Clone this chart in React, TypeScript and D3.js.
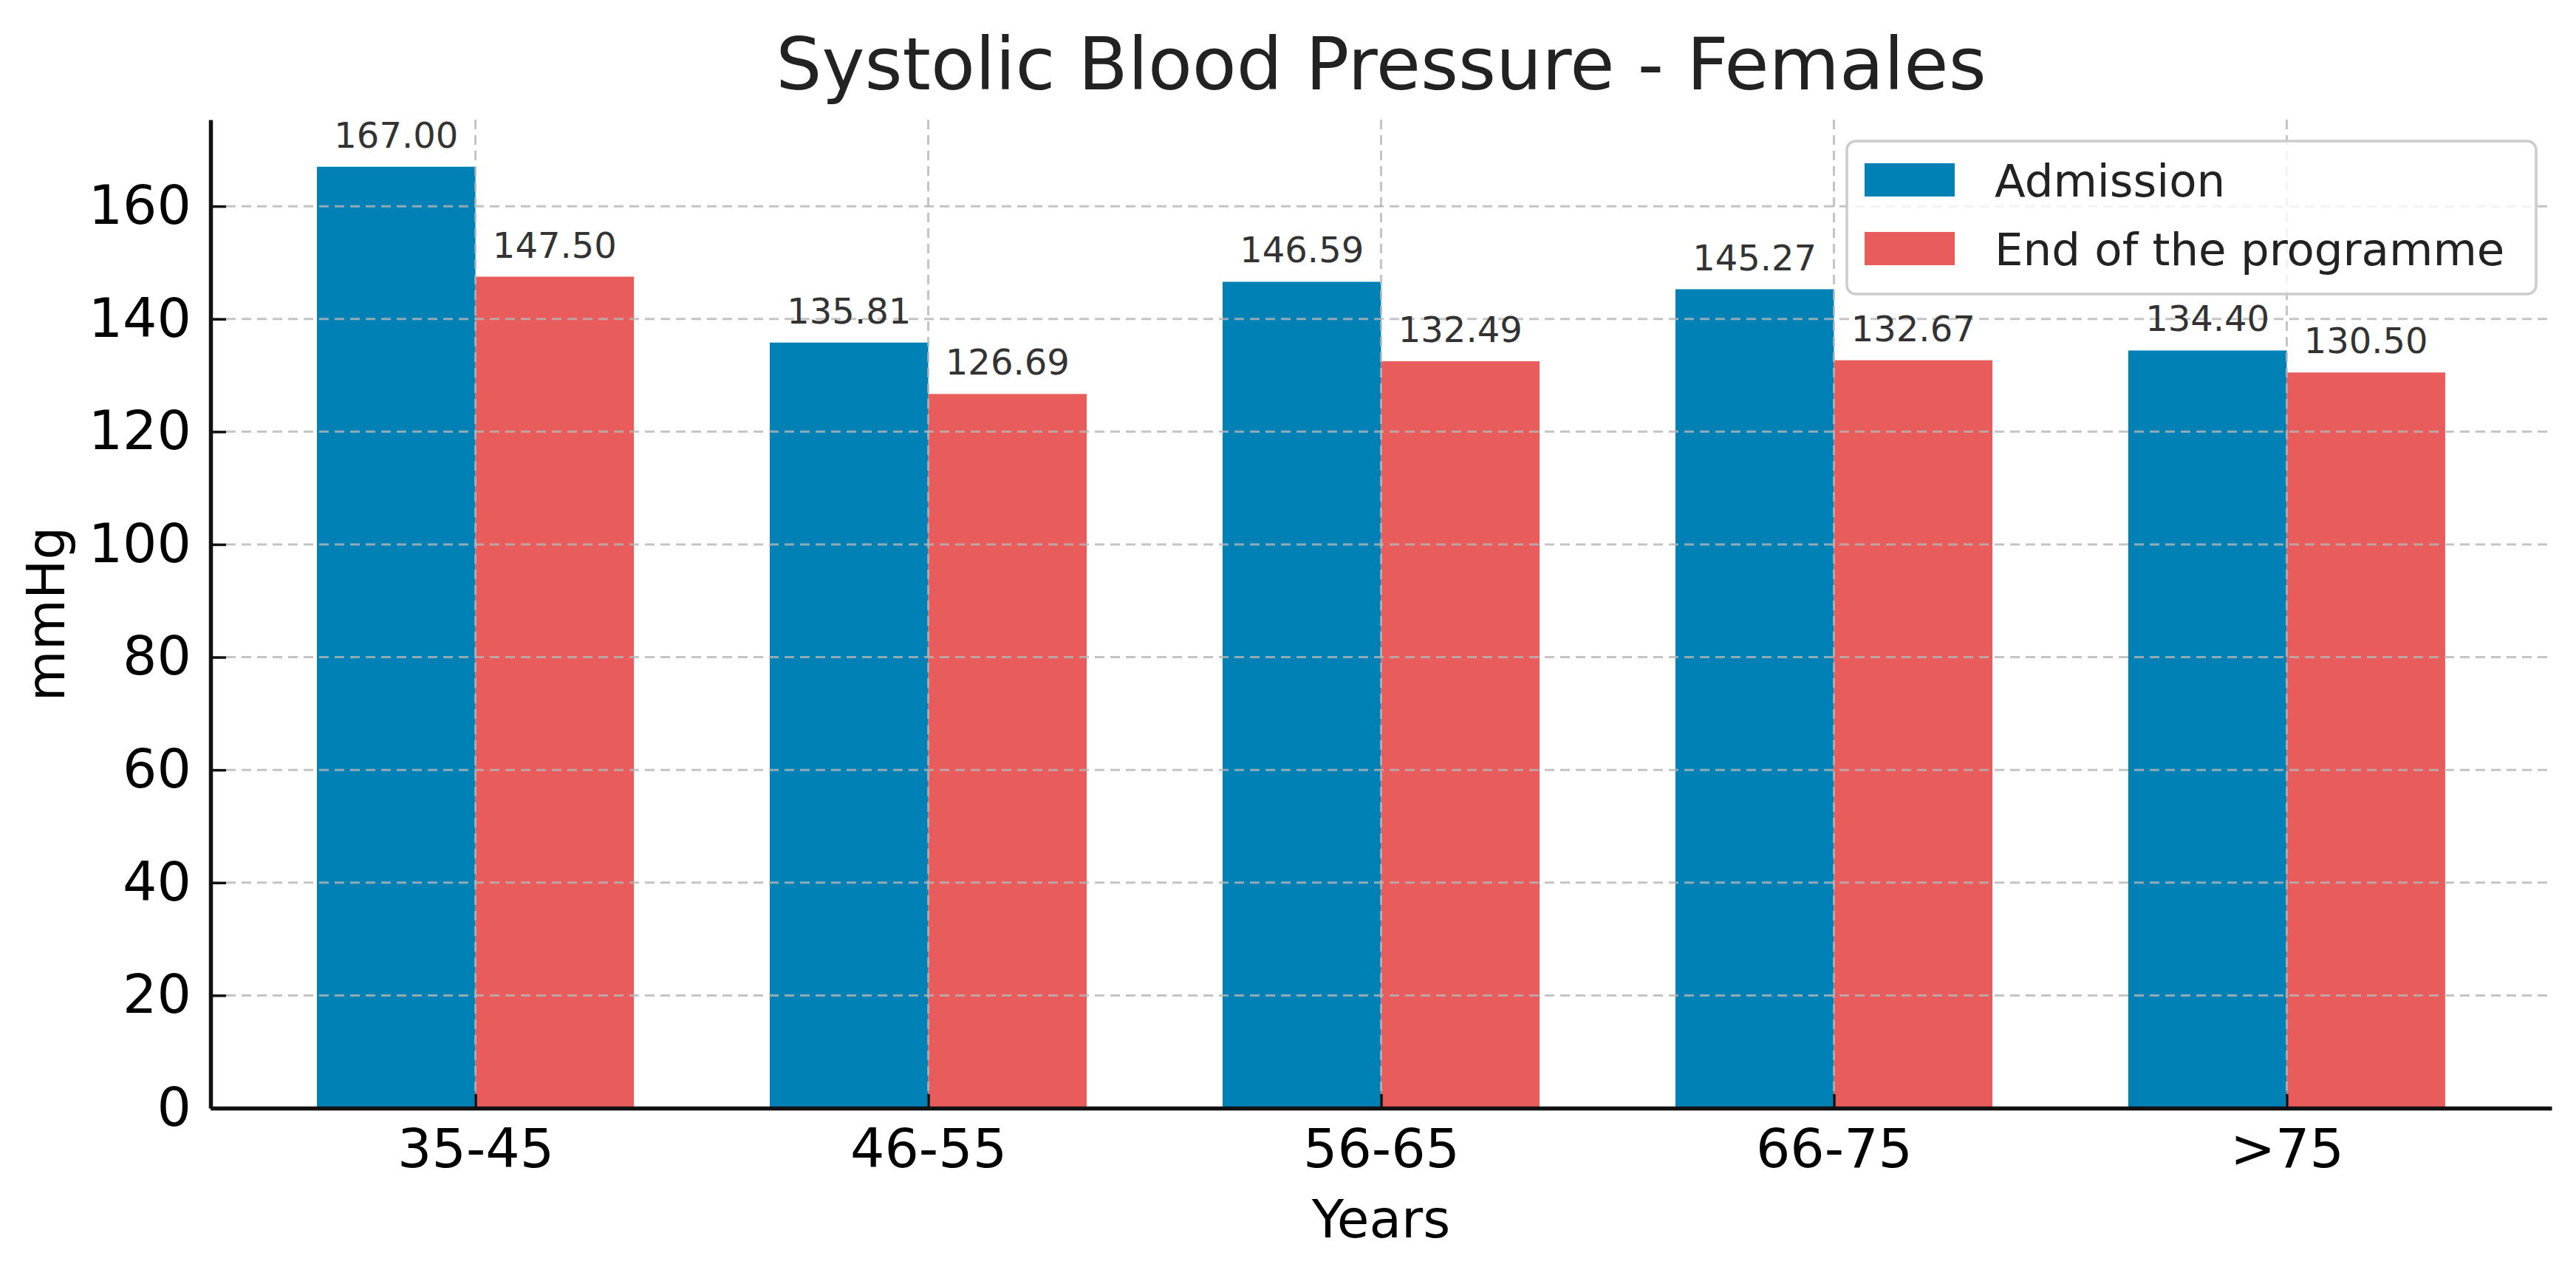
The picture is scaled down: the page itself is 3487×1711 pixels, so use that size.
import React, { useRef, useEffect } from "react";
import * as d3 from "d3";

// Data
const categories: string[] = ["35-45", "46-55", "56-65", "66-75", ">75"];
const admission: number[] = [167.0, 135.81, 146.59, 145.27, 134.4];
const endOfProgramme: number[] = [147.5, 126.69, 132.49, 132.67, 130.5];
const seriesNames: string[] = ["Admission", "End of the programme"];
const yTicks: number[] = [0, 20, 40, 60, 80, 100, 120, 140, 160];

const BLUE = "#0081b6";
const RED = "#e85c5c";
const FONT = "'DejaVu Sans', sans-serif";

const App: React.FC = () => {
  const svgRef = useRef<SVGSVGElement | null>(null);

  useEffect(() => {
    const width = 3487;
    const height = 1711;
    const left = 285;
    const right = 3454;
    const top = 162;
    const bottom = 1500;
    const barW = 0.35;

    const svg = d3.select(svgRef.current);
    svg.selectAll("*").remove();
    svg.attr("width", width).attr("height", height);

    svg.append("rect").attr("width", width).attr("height", height).attr("fill", "white");

    // Scales
    const x = d3.scaleLinear().domain([-0.585, 4.585]).range([left, right]);
    const y = d3.scaleLinear().domain([0, 175.35]).range([bottom, top]);
    const unit = x(1) - x(0);

    // Bars
    const series = [
      { name: seriesNames[0], values: admission, color: BLUE, offset: -barW },
      { name: seriesNames[1], values: endOfProgramme, color: RED, offset: 0 },
    ];

    series.forEach((s) => {
      svg
        .append("g")
        .selectAll("rect")
        .data(s.values)
        .join("rect")
        .attr("x", (_, i) => x(i + s.offset))
        .attr("y", (d) => y(d))
        .attr("width", barW * unit)
        .attr("height", (d) => y(0) - y(d))
        .attr("fill", s.color);
    });

    // Grid (drawn above bars)
    const grid = svg.append("g").attr("stroke", "#b5b5b5").attr("stroke-opacity", 0.8)
      .attr("stroke-width", 3).attr("stroke-dasharray", "13,8");
    grid
      .selectAll("line.h")
      .data(yTicks.filter((t) => t > 0))
      .join("line")
      .attr("x1", left)
      .attr("x2", right)
      .attr("y1", (d) => y(d))
      .attr("y2", (d) => y(d));
    grid
      .selectAll("line.v")
      .data(categories)
      .join("line")
      .attr("x1", (_, i) => x(i))
      .attr("x2", (_, i) => x(i))
      .attr("y1", top)
      .attr("y2", bottom);

    // Value labels
    series.forEach((s) => {
      svg
        .append("g")
        .selectAll("text")
        .data(s.values)
        .join("text")
        .attr("x", (_, i) => x(i + s.offset + barW / 2))
        .attr("y", (d) => y(d) - 26)
        .attr("text-anchor", "middle")
        .attr("font-family", FONT)
        .attr("font-size", 48)
        .attr("fill", "#333")
        .text((d) => d.toFixed(2));
    });

    // Axes
    const yAxis = svg
      .append("g")
      .attr("transform", `translate(${left},0)`)
      .call(d3.axisLeft(y).tickValues(yTicks).tickSizeInner(-21).tickSizeOuter(0).tickPadding(26));
    yAxis.select(".domain").attr("stroke", "#111").attr("stroke-width", 5.5);
    yAxis.selectAll(".tick line").attr("stroke", "#111").attr("stroke-width", 3.5);
    yAxis
      .selectAll(".tick text")
      .attr("font-family", FONT)
      .attr("font-size", 73)
      .attr("fill", "#000");

    const xAxis = svg
      .append("g")
      .attr("transform", `translate(0,${bottom})`)
      .call(
        d3
          .axisBottom(x)
          .tickValues(d3.range(categories.length))
          .tickFormat((d) => categories[d as number])
          .tickSizeInner(-19)
          .tickSizeOuter(0)
          .tickPadding(0)
      );
    xAxis.select(".domain").attr("stroke", "#111").attr("stroke-width", 5.5);
    xAxis.selectAll(".tick line").attr("stroke", "#111").attr("stroke-width", 3.5);
    xAxis
      .selectAll(".tick text")
      .attr("font-family", FONT)
      .attr("font-size", 73)
      .attr("fill", "#000")
      .attr("dy", null)
      .attr("y", 80);

    // Axis labels
    svg
      .append("text")
      .attr("x", (left + right) / 2)
      .attr("y", 1675)
      .attr("text-anchor", "middle")
      .attr("font-family", FONT)
      .attr("font-size", 71)
      .attr("fill", "#000")
      .text("Years");

    svg
      .append("text")
      .attr("transform", `translate(87,${(top + bottom) / 2}) rotate(-90)`)
      .attr("text-anchor", "middle")
      .attr("font-family", FONT)
      .attr("font-size", 71)
      .attr("fill", "#000")
      .text("mmHg");

    // Title
    svg
      .append("text")
      .attr("x", (left + right) / 2)
      .attr("y", 121)
      .attr("text-anchor", "middle")
      .attr("font-family", FONT)
      .attr("font-size", 98)
      .attr("fill", "#222")
      .text("Systolic Blood Pressure - Females");

    // Legend
    const legend = svg.append("g");
    legend
      .append("rect")
      .attr("x", 2500)
      .attr("y", 191)
      .attr("width", 933)
      .attr("height", 207)
      .attr("rx", 12)
      .attr("fill", "white")
      .attr("fill-opacity", 0.8)
      .attr("stroke", "#cccccc")
      .attr("stroke-width", 3.5);
    const items = legend
      .selectAll("g.item")
      .data(series)
      .join("g")
      .attr("transform", (_, i) => `translate(2524,${221 + i * 93})`);
    items.append("rect").attr("width", 122).attr("height", 45).attr("fill", (d) => d.color);
    items
      .append("text")
      .attr("x", 176)
      .attr("y", 45)
      .attr("font-family", FONT)
      .attr("font-size", 61)
      .attr("fill", "#222")
      .text((d) => d.name);
  }, []);

  return (
    <svg ref={svgRef} style={{ position: "absolute", left: 0, top: 0, display: "block" }}></svg>
  );
};

export default App;
